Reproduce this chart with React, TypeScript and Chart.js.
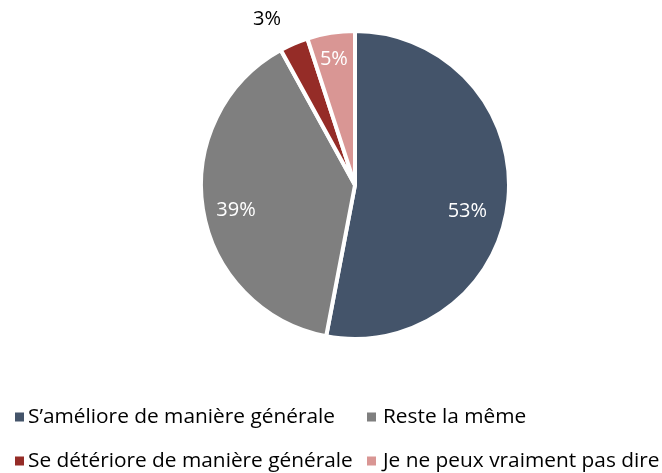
import React, { useEffect, useRef } from "react";
import { Chart, registerables } from "chart.js";

Chart.register(...registerables);

const categories = [
  "S\u2019améliore de manière générale",
  "Reste la même",
  "Se détériore de manière générale",
  "Je ne peux vraiment pas dire",
];
const values = [53, 39, 3, 5];
const valueLabels = ["53%", "39%", "3%", "5%"];
const colors = ["#44546A", "#7F7F7F", "#952C27", "#D99694"];
const labelColors = ["#FFFFFF", "#FFFFFF", "#000000", "#FFFFFF"];
const labelRadius = [0.75, 0.79, 1.22, 0.83];
const labelAngleShift = [8, -3, -4.5, -0.5];

const FONT = '"Open Sans", "Noto Sans", sans-serif';

const labelPlugin = {
  id: "sliceLabels",
  afterDatasetsDraw(chart: any) {
    const ctx = chart.ctx;
    const meta = chart.getDatasetMeta(0);
    ctx.save();
    ctx.font = `20px ${FONT}`;
    ctx.textAlign = "center";
    ctx.textBaseline = "middle";
    meta.data.forEach((arc: any, i: number) => {
      const p = arc.getProps(["x", "y", "startAngle", "endAngle", "outerRadius"], true);
      const mid = (p.startAngle + p.endAngle) / 2 + (labelAngleShift[i] * Math.PI) / 180;
      const r = p.outerRadius * labelRadius[i];
      ctx.fillStyle = labelColors[i];
      ctx.fillText(valueLabels[i], p.x + Math.cos(mid) * r, p.y + Math.sin(mid) * r);
    });
    ctx.restore();
  },
};

const legendPlugin = {
  id: "customLegend",
  afterDraw(chart: any) {
    const ctx = chart.ctx;
    ctx.save();
    // fit font so the longest label matches the reference width
    ctx.font = `20px ${FONT}`;
    const w = ctx.measureText(categories[2]).width;
    const size = (20 * 325) / w;
    ctx.font = `${size}px ${FONT}`;
    ctx.textBaseline = "middle";
    ctx.textAlign = "left";
    const colX = [15, 367];
    const rowY = [417, 461];
    categories.forEach((c, i) => {
      const col = i % 2;
      const row = Math.floor(i / 2);
      ctx.fillStyle = colors[i];
      ctx.fillRect(colX[col], rowY[row] - 4.5, 9, 9);
      ctx.fillStyle = "#000000";
      ctx.fillText(c, colX[col] + (col === 0 ? 13 : 16), rowY[row]);
    });
    ctx.restore();
  },
};

export default function App() {
  const ref = useRef<HTMLCanvasElement>(null);
  useEffect(() => {
    if (!ref.current) return;
    const chart = new Chart(ref.current, {
      type: "pie",
      data: {
        labels: categories,
        datasets: [
          {
            data: values,
            backgroundColor: colors,
            borderColor: "#FFFFFF",
            borderWidth: 4,
            radius: 154,
          } as any,
        ],
      },
      options: {
        animation: false,
        responsive: false,
        rotation: 0,
        layout: { padding: { left: 195, right: 147, top: 25, bottom: 128 } },
        plugins: {
          legend: { display: false },
          tooltip: { enabled: false },
        },
      },
      plugins: [labelPlugin, legendPlugin],
    });
    return () => chart.destroy();
  }, []);
  return (
    <div style={{ position: "fixed", left: 0, top: 0, width: 662, height: 473, background: "#fff" }}>
      <canvas ref={ref} width={662} height={473} style={{ width: 662, height: 473 }} />
    </div>
  );
}
